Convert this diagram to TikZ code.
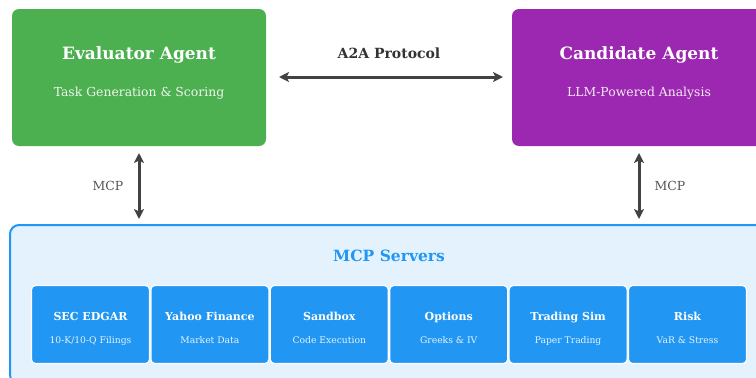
\documentclass[tikz,border=0pt]{standalone}
\usepackage{fontspec}
\setmainfont{DejaVu Serif}
\usetikzlibrary{arrows.meta}
\definecolor{cgreen}{HTML}{4CAF50}
\definecolor{cpurple}{HTML}{9C27B0}
\definecolor{cblue}{HTML}{2196F3}
\definecolor{clight}{HTML}{E3F2FD}
\definecolor{carrow}{HTML}{424242}
\definecolor{ctext}{HTML}{333333}
\definecolor{clabel}{HTML}{555555}
\begin{document}
\begin{tikzpicture}[x=1pt,y=-1pt,
  agent/.style={rounded corners=7pt, minimum width=254pt, minimum height=137pt, inner sep=0pt, draw=none},
  atitle/.style={text=white, font=\bfseries\fontsize{17}{20}\selectfont, inner sep=0pt, anchor=base},
  asub/.style={text=white, opacity=0.9, font=\fontsize{12.4}{14}\selectfont, inner sep=0pt, anchor=base},
  server/.style={rounded corners=4pt, fill=cblue, draw=white, line width=1.2pt, minimum width=118pt, minimum height=78pt, inner sep=0pt},
  stitle/.style={text=white, font=\bfseries\fontsize{11}{13}\selectfont, inner sep=0pt, anchor=base},
  ssub/.style={text=white, opacity=0.88, font=\fontsize{9.2}{11}\selectfont, inner sep=0pt, anchor=base},
  conn/.style={draw=carrow, line width=3pt, {Stealth[length=10pt,width=10pt,inset=2.5pt]}-{Stealth[length=10pt,width=10pt,inset=2.5pt]}},
  mcplabel/.style={text=clabel, font=\fontsize{12.5}{14}\selectfont, inner sep=0pt, anchor=base}
]
\useasboundingbox (0,0) rectangle (756,378);
\clip (0,0) rectangle (756,378);
\fill[white] (0,0) rectangle (756,378);

% agents
\node[agent, fill=cgreen] (eval) at (139,77.5) {};
\node[atitle] (evalT) at (139,59.5) {Evaluator Agent};
\node[asub] (evalS) at (139,96.5) {Task Generation \& Scoring};

\node[agent, fill=cpurple] (cand) at (639,77.5) {};
\node[atitle] (candT) at (639,59.5) {Candidate Agent};
\node[asub] (candS) at (639,96.5) {LLM-Powered Analysis};

% A2A
\coordinate (a2aL) at (279,77);
\coordinate (a2aR) at (503,77);
\draw[conn] (a2aL) -- (a2aR);
\node[text=ctext, font=\bfseries\fontsize{14}{16}\selectfont, inner sep=0pt, anchor=base] (a2a) at (389,58.5) {A2A Protocol};

% container
\draw[fill=clight, draw=cblue, line width=2pt, rounded corners=9pt] (10,225) rectangle (768,384);
\node (cont) at (389,304) {};
\node[text=cblue, font=\bfseries\fontsize{15.5}{18}\selectfont, inner sep=0pt, anchor=base] (contT) at (389,261.5) {MCP Servers};

% MCP connectors
\coordinate (m1a) at (139,153);
\coordinate (m1b) at (139,219);
\coordinate (m2a) at (639,153);
\coordinate (m2b) at (639,219);
\draw[conn] (m1a) -- (m1b);
\draw[conn] (m2a) -- (m2b);
\node[mcplabel] (l1) at (108,190.5) {MCP};
\node[mcplabel] (l2) at (670,190.5) {MCP};

% servers
\foreach \i/\t/\s in {0/SEC EDGAR/{10-K/10-Q Filings}, 1/Yahoo Finance/Market Data, 2/Sandbox/Code Execution, 3/Options/{Greeks \& IV}, 4/Trading Sim/Paper Trading, 5/Risk/{VaR \& Stress}}{
  \node[server] (s\i) at ({90.5+119.4*\i},324.5) {};
  \node[stitle] (s\i t) at ({90.5+119.4*\i},320) {\t};
  \node[ssub] (s\i s) at ({90.5+119.4*\i},343.3) {\s};
}
\end{tikzpicture}
\end{document}
